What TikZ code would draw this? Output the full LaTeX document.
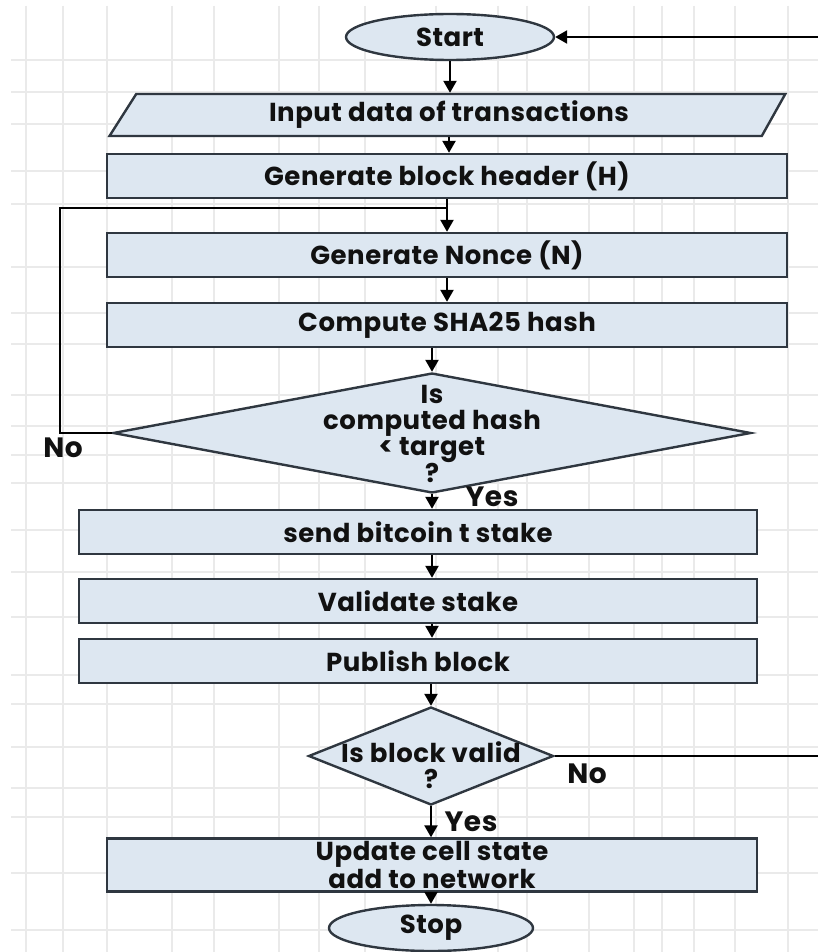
\documentclass[tikz,border=0pt]{standalone}
\usepackage{fontspec}
\setmainfont{Poppins}[LetterSpace=2]
\usetikzlibrary{arrows.meta,shapes.geometric}
\definecolor{boxfill}{HTML}{DDE7F1}
\definecolor{boxline}{HTML}{2F3740}
\definecolor{gridline}{HTML}{EAEAEA}
\definecolor{ink}{HTML}{111111}
\begin{document}
\begin{tikzpicture}[x=1pt,y=-1pt,
  every node/.style={text=ink},
  base/.style={draw=boxline, fill=boxfill, line width=2.4pt, inner sep=0pt,
    font=\bfseries\fontsize{26}{28}\selectfont},
  proc/.style={base, rectangle, minimum height=44pt},
  term/.style={base, ellipse},
  decis/.style={base, diamond},
  dtext/.style={align=center, inner sep=0pt, font=\bfseries\fontsize{26}{26}\selectfont},
  arr/.style={draw=black, line width=2.4pt, -{Triangle[length=12pt,width=13pt]}},
  wire/.style={draw=black, line width=2.4pt},
  lbl/.style={inner sep=0pt, font=\bfseries\fontsize{28}{30}\selectfont},
  gridrule/.style={draw=gridline, line width=1.1pt}]
\useasboundingbox (0,0) rectangle (818,952);
\fill[white] (0,0) rectangle (818,952);

% background grid
\foreach \gx in {26,63,107,172,214,279,319,365,436,498,527,589,634,662,694,735,788}
  \draw[gridrule] (\gx,6) -- (\gx,952);
\foreach \gy in {60,92,124,171,204,267,313,344,395,426,455,483,530,572,617,675,704,747,788,817,873,930}
  \draw[gridrule] (11,\gy) -- (818,\gy);

% flowchart steps
\node[term, minimum width=208pt, minimum height=46pt] (start) at (450,37) {Start};
\node[base, trapezium, trapezium left angle=61, trapezium right angle=116,
      trapezium stretches=true, minimum width=678pt, minimum height=42pt]
      (input) at (449,115) {Input data of transactions};
\node[proc, minimum width=680pt] (header) at (447,176) {Generate block header (H)};
\node[proc, minimum width=680pt] (nonce) at (447,255) {Generate Nonce (N)};
\node[proc, minimum width=680pt] (sha) at (447,325) {Compute SHA25 hash};
\node[decis, minimum width=638pt, minimum height=120pt] (hashq) at (432,433) {};
\node[dtext] at (432,434) {Is\\computed hash\\< target\\?};
\node[proc, minimum width=678pt] (send) at (418,532) {send bitcoin t stake};
\node[proc, minimum width=678pt] (valid) at (418,601) {Validate stake};
\node[proc, minimum width=678pt] (publish) at (418,661) {Publish block};
\node[decis, minimum width=245pt, minimum height=98pt] (blockq) at (431,756) {};
\node[dtext] at (431,765) {Is block valid\\?};
\node[proc, minimum width=650pt, minimum height=53pt, align=center,
      font=\bfseries\fontsize{26}{25}\selectfont] (update) at (432,865)
      {Update cell state\\add to network};
\node[term, minimum width=204pt, minimum height=46pt] (stop) at (431,928) {Stop};

% loop and exit points
\coordinate (jn) at (447,208);
\coordinate (loopx) at (60,208);
\coordinate (rt) at (818,37);
\coordinate (rb) at (818,756);

% connectors
\draw[arr] (start.south) -- (start.south |- input.north);
\draw[arr] (input.south) -- (input.south |- header.north);
\draw[arr] (header) -- (nonce);
\draw[arr] (nonce) -- (sha);
\draw[arr] (sha.south -| hashq.north) -- (hashq.north);
\draw[arr] (hashq.south) -- (hashq.south |- send.north);
\draw[arr] (send.south -| hashq.south) -- (valid.north -| hashq.south);
\draw[arr] (valid.south -| hashq.south) -- (publish.north -| hashq.south);
\draw[arr] (publish.south -| blockq.north) -- (blockq.north);
\draw[arr] (blockq.south) -- (blockq.south |- update.north);
\draw[arr] (update.south -| stop.north) -- (stop.north);
\draw[wire] (hashq.west) -| (loopx) -- (jn);
\draw[wire] (blockq.east) -- (rb);
\draw[arr] (rt) -- (start.east);

% branch labels
\node[lbl] at (63,448) {No};
\node[lbl] at (492,497) {Yes};
\node[lbl] at (587,774) {No};
\node[lbl] at (471,822) {Yes};
\end{tikzpicture}
\end{document}
